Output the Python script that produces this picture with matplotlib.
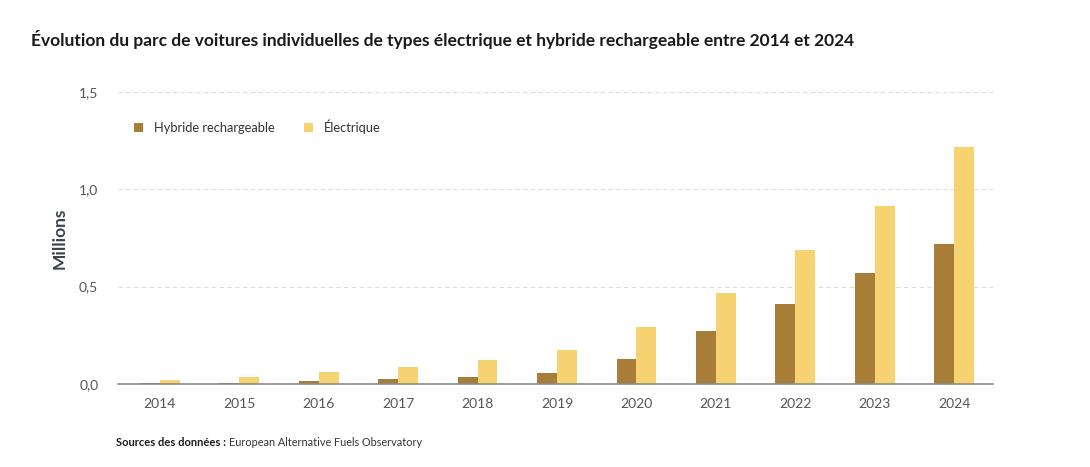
import numpy as np
import matplotlib.pyplot as plt

# Données (millions de véhicules)
annees = ['2014', '2015', '2016', '2017', '2018', '2019', '2020', '2021', '2022', '2023', '2024']
hybride = [0.002, 0.006, 0.015, 0.025, 0.037, 0.057, 0.128, 0.271, 0.409, 0.572, 0.719]
electrique = [0.020, 0.037, 0.062, 0.088, 0.125, 0.175, 0.293, 0.467, 0.688, 0.914, 1.217]
yticks = [0.0, 0.5, 1.0, 1.5]
ytick_labels = ['0,0', '0,5', '1,0', '1,5']

C_HYB = '#A87D38'
C_ELEC = '#F7D270'

plt.rcParams['font.family'] = ['Lato', 'DejaVu Sans']

fig = plt.figure(figsize=(10.9, 4.67), dpi=100)
ax = fig.add_axes([0.108, 0.178, 0.803, 0.625])

x = np.arange(len(annees))
w = 0.25
ax.bar(x - w / 2, hybride, width=w, color=C_HYB, label='Hybride rechargeable', zorder=3)
ax.bar(x + w / 2, electrique, width=w, color=C_ELEC, label='Électrique', zorder=3)

ax.set_xlim(-0.53, 10.49)
ax.set_ylim(0, 1.5)
ax.set_xticks(x)
ax.set_xticklabels(annees)
ax.set_yticks(yticks)
ax.set_yticklabels(ytick_labels)
ax.tick_params(axis='both', length=0, labelsize=10, colors='#555555', pad=10)
ax.tick_params(axis='y', pad=14)

for s in ['top', 'right', 'left']:
    ax.spines[s].set_visible(False)
ax.spines['bottom'].set_color('#8a8a8a')
ax.spines['bottom'].set_linewidth(1.2)
ax.spines['bottom'].set_zorder(4)

ax.yaxis.grid(True, linestyle=(0, (4, 3)), color='#dddddd', linewidth=0.8, zorder=0)
ax.set_axisbelow(True)

ax.set_ylabel('Millions', fontsize=12.5, fontweight='bold', color='#3b4250', labelpad=8)

ax.legend(loc='upper left', bbox_to_anchor=(0.005, 0.945), ncol=2, frameon=False,
          fontsize=9.3, handlelength=0.7, handleheight=0.7, handletextpad=0.9,
          columnspacing=2.2, labelcolor='#333333')

fig.text(0.028, 0.915, "Évolution du parc de voitures individuelles de types électrique et hybride rechargeable entre 2014 et 2024",
         fontsize=12.5, fontweight='bold', color='#1a1a1a', va='center')
fig.text(0.106, 0.053, 'Sources des données :', fontsize=8, fontweight='bold', color='#1a1a1a', va='center')
fig.text(0.2105, 0.053, 'European Alternative Fuels Observatory', fontsize=7.8, color='#333333', va='center')

fig.savefig('out.png', dpi=100)
